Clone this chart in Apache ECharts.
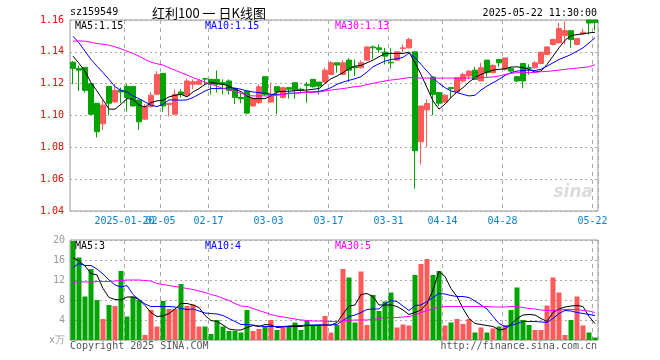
<!DOCTYPE html>
<html><head><meta charset="utf-8">
<script src="https://cdn.jsdelivr.net/npm/echarts@6/dist/echarts.min.js"></script>
<style>html,body{margin:0;padding:0;background:#fff}#c{width:660px;height:360px}</style>
</head><body><div id="c"></div>
<script>
const dates = ['01-07','01-08','01-09','01-10','01-13','01-14','01-15','01-16','01-17','01-20','01-21','01-22','01-23','01-24','01-27',
'02-05','02-06','02-07','02-10','02-11','02-12','02-13','02-14','02-17','02-18','02-19','02-20','02-21','02-24','02-25','02-26','02-27','02-28',
'03-03','03-04','03-05','03-06','03-07','03-10','03-11','03-12','03-13','03-14','03-17','03-18','03-19','03-20','03-21','03-24','03-25','03-26','03-27','03-28','03-31',
'04-01','04-02','04-03','04-07','04-08','04-09','04-10','04-11','04-14','04-15','04-16','04-17','04-18','04-21','04-22','04-23','04-24','04-25','04-28','04-29','04-30',
'05-06','05-07','05-08','05-09','05-12','05-13','05-14','05-15','05-16','05-19','05-20','05-21','05-22'];
const tickIdx = [9,15,23,33,43,53,62,72,87];
const tickText = ['2025-01-20','02-05','02-17','03-03','03-17','03-31','04-14','04-28','05-22'];

const open = [1.1335,1.1296,1.1302,1.12,1.1077,1.0948,1.1183,1.1085,1.1158,1.1183,1.1183,1.1098,1.0977,1.1056,1.1133,1.1265,1.1069,1.1008,1.1148,1.1127,1.1196,1.1196,1.1231,1.1227,1.1227,1.1206,1.1217,1.1169,1.1113,1.1154,1.106,1.1081,1.1244,1.1085,1.1181,1.1113,1.1175,1.1206,1.1165,1.1196,1.1227,1.121,1.121,1.1258,1.1331,1.1258,1.1348,1.1306,1.13,1.1348,1.1431,1.1425,1.1398,1.1335,1.1348,1.1421,1.1425,1.14,1.0835,1.1035,1.1242,1.1144,1.1085,1.1175,1.1148,1.1217,1.1248,1.1285,1.1217,1.1348,1.1269,1.1352,1.129,1.1294,1.1244,1.1327,1.13,1.13,1.1327,1.1383,1.1446,1.1456,1.1502,1.1533,1.1446,1.1513,1.16,1.16];
const close = [1.1296,1.1285,1.1158,1.1008,1.0898,1.1065,1.1077,1.1158,1.1148,1.1113,1.106,1.096,1.1056,1.1127,1.1258,1.106,1.1077,1.1133,1.1133,1.1217,1.1212,1.1217,1.1229,1.1196,1.1196,1.1196,1.1158,1.1113,1.1106,1.1015,1.1108,1.1181,1.1133,1.1133,1.1148,1.1175,1.1165,1.1158,1.1158,1.119,1.1181,1.1185,1.1285,1.1331,1.1317,1.1331,1.1285,1.13,1.1331,1.1431,1.1425,1.1415,1.1373,1.1331,1.14,1.1425,1.1477,1.0779,1.106,1.1075,1.1133,1.1077,1.1127,1.1169,1.1237,1.1258,1.1279,1.1227,1.13,1.1269,1.1315,1.1331,1.1362,1.1279,1.1217,1.1217,1.1296,1.1331,1.1398,1.1431,1.1477,1.1546,1.1533,1.1477,1.1483,1.1523,1.1581,1.1585];
const low = [1.1196,1.1154,1.1144,1.1002,1.0862,1.091,1.1002,1.1081,1.1077,1.1025,1.1056,1.091,1.0973,1.105,1.1129,1.1023,1.0994,1.1004,1.1113,1.1123,1.1165,1.119,1.119,1.1133,1.1144,1.1133,1.1133,1.1071,1.1077,1.1008,1.1056,1.1071,1.1123,1.1081,1.1008,1.1106,1.1106,1.1106,1.1138,1.1081,1.1175,1.1133,1.1206,1.1252,1.1269,1.1254,1.1212,1.1248,1.1296,1.1342,1.1356,1.1394,1.1321,1.1294,1.1342,1.1398,1.1421,1.054,1.0692,1.0804,1.1002,1.106,1.108,1.1108,1.1144,1.1206,1.1227,1.1223,1.1217,1.1244,1.1265,1.1306,1.1281,1.1273,1.1212,1.1171,1.1256,1.1296,1.1321,1.1379,1.144,1.1456,1.1446,1.1425,1.1442,1.1504,1.1508,1.1535];
const high = [1.1342,1.1315,1.1302,1.12,1.1077,1.1096,1.1183,1.1196,1.1175,1.12,1.1183,1.1098,1.1071,1.1148,1.1279,1.1265,1.1077,1.1165,1.1165,1.1231,1.1227,1.1225,1.1233,1.1227,1.1283,1.1227,1.1227,1.1169,1.1144,1.1154,1.1113,1.1196,1.1244,1.1206,1.1181,1.1175,1.1175,1.1206,1.1175,1.121,1.1227,1.121,1.13,1.1342,1.1331,1.1348,1.136,1.1352,1.1346,1.1435,1.144,1.1446,1.1425,1.1425,1.1404,1.1446,1.1488,1.1404,1.106,1.1102,1.1242,1.1144,1.1133,1.1179,1.1237,1.1269,1.1285,1.1306,1.1331,1.1348,1.1321,1.1352,1.1362,1.1306,1.1248,1.1327,1.1321,1.1342,1.14,1.1435,1.1483,1.1581,1.1592,1.1533,1.1488,1.1546,1.16,1.16];

const ma5 = [1.1373,1.1327,1.1279,1.1206,1.1154,1.1098,1.104,1.104,1.1071,1.1106,1.1102,1.1065,1.1054,1.1081,1.1092,1.1096,1.1117,1.1127,1.1133,1.1117,1.1148,1.1169,1.1196,1.1206,1.1202,1.1196,1.1185,1.1165,1.115,1.1123,1.1106,1.1106,1.1106,1.1123,1.1148,1.1152,1.1152,1.1156,1.1158,1.116,1.1165,1.1169,1.1202,1.1231,1.1248,1.1269,1.1294,1.131,1.1315,1.1331,1.1348,1.1369,1.139,1.139,1.139,1.139,1.1398,1.1331,1.1258,1.1175,1.1092,1.104,1.1071,1.1113,1.1148,1.1175,1.121,1.1238,1.1258,1.1273,1.1285,1.129,1.1294,1.1304,1.1306,1.13,1.129,1.1273,1.1279,1.1321,1.1373,1.1425,1.1473,1.1502,1.1508,1.1513,1.1519,1.1523];
const ma10 = [1.1498,1.1456,1.1404,1.1352,1.131,1.1269,1.1227,1.1181,1.1158,1.1148,1.1123,1.1106,1.1085,1.1065,1.1056,1.1071,1.1098,1.1098,1.1096,1.1098,1.1113,1.1133,1.1154,1.1169,1.1169,1.1169,1.1175,1.1172,1.1165,1.1154,1.1148,1.1144,1.114,1.1133,1.1133,1.1133,1.114,1.114,1.1144,1.1148,1.1148,1.1152,1.116,1.1175,1.1196,1.121,1.1221,1.1231,1.1244,1.1273,1.1306,1.1325,1.1342,1.1352,1.1356,1.1365,1.1392,1.1363,1.1321,1.1279,1.1238,1.1202,1.1175,1.1154,1.1144,1.1133,1.1123,1.1127,1.116,1.1185,1.1206,1.1227,1.1252,1.1269,1.1279,1.1283,1.1285,1.1283,1.129,1.131,1.1331,1.1352,1.1367,1.1383,1.1404,1.1425,1.1456,1.1488];
const ma30 = [1.1467,1.1469,1.1467,1.146,1.1452,1.1448,1.1442,1.1431,1.1419,1.1404,1.139,1.1373,1.1352,1.1335,1.1325,1.1317,1.13,1.1285,1.1269,1.1254,1.1238,1.1225,1.121,1.1196,1.1183,1.1171,1.116,1.115,1.114,1.1127,1.1123,1.1123,1.1123,1.1123,1.1127,1.1133,1.1138,1.114,1.1144,1.1144,1.1146,1.1148,1.1154,1.116,1.1165,1.1169,1.1175,1.1181,1.1185,1.1194,1.1202,1.121,1.1217,1.1223,1.1227,1.1233,1.1238,1.1238,1.1235,1.1235,1.1235,1.1235,1.1235,1.1235,1.1235,1.1235,1.1235,1.1238,1.1238,1.124,1.1242,1.1248,1.1258,1.1265,1.1269,1.1269,1.1269,1.1271,1.1275,1.1277,1.1281,1.1285,1.129,1.1294,1.1298,1.1302,1.1306,1.1319];

const volume = [19.8,16.5,8.7,14.2,8,4.2,7,6.8,13.8,4.7,8.7,8,1,6,2.7,7.8,6.2,6.2,11.2,6.8,7.1,2.7,2.7,1.2,4,2.7,1.8,1.8,1.5,6,1.8,2.2,2.7,4,2,2.5,2.7,3.5,2,3.9,3,3,4.8,1.5,3,14.2,12.5,3.5,13.7,3,9,5.8,7.7,9.5,2.5,3.1,2.9,13,15.2,16.2,13,13.8,2.9,3.5,4.2,3.2,4.2,1.5,2.5,1.5,2.3,2.7,3,6,10.5,4,3,2,2,6.9,12.5,9.5,1,4,8.7,2.9,1.5,0.5];
const vma5 = [16.5,15.8,14.8,13.3,13,10.3,8.5,8.1,8,8.6,8.6,8.1,6.9,5.5,4.7,4.8,5.3,6.2,7.3,7.3,7,6.5,4.9,3.9,3.7,3,2.2,2,2,2.5,2.9,2.7,3.1,3,2.5,2.6,2.7,2.7,2.7,2.9,2.9,3,3,3,3.5,5.2,6.8,7,9.1,9.3,8.7,7,7,7,6.7,6,5.1,5.5,6,7.3,10,13.7,12.7,10.3,8.7,6.3,4.3,3.3,3.1,2.9,2.7,2,2.2,3.1,4.3,5,5.1,5,4.3,3.7,5.5,6.2,6.6,6.8,6.9,6.7,4.7,3.3];
const vma10 = [14.5,15.3,14.9,14.9,14.2,13.2,12,11,10.6,10.9,9.1,8.1,7.2,6.7,6.7,6.7,6.7,6.6,6.3,6.1,6.2,5.8,5.4,5.3,5.2,4.9,4.3,3.7,3.1,3.1,3,2.8,2.7,2.7,2.7,2.7,2.8,2.9,2.9,3,3,3,3,3,3.1,3.9,4.7,5,5.5,6.1,6.2,6.2,7.3,7.9,7.7,6.8,5.9,6.9,7,7.7,8.5,9.3,9.2,8.9,8.7,8.7,8.5,7.8,7,6.2,4.7,3.3,2.7,2.9,3.3,3.7,3.7,3.7,3.6,3.5,4.3,5.3,5.9,5.8,5.5,5.3,5.1,4.9];
const vma30 = [11.4,11.7,11.6,11.6,11.7,11.7,11.7,11.8,11.9,12,12,12,11.9,11.8,11.3,11.1,10.9,10.7,10.5,10.3,10.1,9.8,9.5,9.1,8.8,8.3,7.9,7.3,6.8,6.7,6.3,5.9,5.5,5.1,4.8,4.6,4.4,4.2,4,3.9,3.8,3.8,3.8,3.7,3.7,3.8,3.9,4,4,4,4.1,4.3,4.5,4.5,4.5,4.6,4.7,5,5.5,5.9,6.2,6.5,6.7,6.7,6.7,6.7,6.7,6.7,6.7,6.7,6.6,6.6,6.6,6.7,6.7,6.5,6.3,6.2,6,5.9,5.9,6,6.1,6.1,6.1,5.9,5.8,5.5];

const UP = '#ff5a5a', DOWN = '#00a300';
const MONO = 'DejaVu Sans Mono';
const kdata = open.map((o,i)=>[o, close[i], low[i], high[i]]);
const vdata = volume.map((v,i)=>({value:v, itemStyle:{color: close[i] >= open[i] ? UP : DOWN}}));
const firstTick = tickIdx[0];
const showTick = (i)=> tickIdx.indexOf(i) >= 0;
const showLabel = (i)=> i !== firstTick && tickIdx.indexOf(i) >= 0;

const chart = echarts.init(document.getElementById('c'), null, {renderer:'canvas'});
const gridLine = {color:'#aaa', type:[2,3], width:1};
const vLine = {color:'#aaa', type:[4,4], width:1};
const lineS = (name, data, color, xi, yi) => ({name, type:'line', data, xAxisIndex:xi, yAxisIndex:yi, showSymbol:false, symbol:'none', z:5,
  lineStyle:{color, width:1}, itemStyle:{color}, emphasis:{disabled:true}});
const labelStyle = {color:'#0c80d0', fontFamily:MONO, fontSize:10, margin:5, padding:[0,5,0,0], hideOverlap:false};

chart.setOption({
  animation:false,
  backgroundColor:'#fff',
  grid:[
    {left:70, top:20, width:528, height:191, show:true, borderColor:'#999', borderWidth:1},
    {left:70, top:240, width:528, height:100, show:true, borderColor:'#999', borderWidth:1}
  ],
  xAxis:[
    {type:'category', gridIndex:0, data:dates, boundaryGap:true,
     axisLine:{show:false}, axisTick:{show:false},
     axisLabel:Object.assign({interval:showLabel, formatter:(v,i)=>tickText[tickIdx.indexOf(i)] || ''}, labelStyle),
     splitLine:{show:true, interval:showTick, lineStyle:vLine}},
    {type:'category', gridIndex:1, data:dates, boundaryGap:true,
     axisLine:{show:false}, axisTick:{show:false}, axisLabel:{show:false},
     splitLine:{show:true, interval:showTick, lineStyle:vLine}},
    {type:'category', gridIndex:0, data:dates, boundaryGap:true, position:'bottom', z:-1,
     axisLine:{show:false}, axisTick:{show:false}, splitLine:{show:false},
     axisLabel:Object.assign({interval:(i)=>i===firstTick, formatter:(v,i)=> i===firstTick ? tickText[0] : ''}, labelStyle)}
  ],
  yAxis:[
    {type:'value', gridIndex:0, min:1.04, max:1.16, interval:0.02,
     axisLine:{show:false}, axisTick:{show:false},
     axisLabel:{formatter:v=>v.toFixed(2), color:'#ff0000', fontFamily:MONO, fontSize:10, margin:6},
     splitLine:{show:true, lineStyle:gridLine}},
    {type:'value', gridIndex:1, min:0, max:20, interval:4,
     axisLine:{show:false}, axisTick:{show:false},
     axisLabel:{formatter:v=> v===0 ? 'x万' : String(v), color:'#999', fontFamily:MONO, fontSize:10, margin:5},
     splitLine:{show:true, lineStyle:gridLine}}
  ],
  series:[
    {type:'candlestick', xAxisIndex:0, yAxisIndex:0, data:kdata, barWidth:5,
     itemStyle:{color:UP, color0:DOWN, borderColor:UP, borderColor0:DOWN, borderWidth:1}},
    lineS('MA5', ma5, '#000', 0, 0),
    lineS('MA10', ma10, '#0000ff', 0, 0),
    lineS('MA30', ma30, '#ff00ff', 0, 0),
    {type:'bar', xAxisIndex:1, yAxisIndex:1, data:vdata, barWidth:5},
    lineS('VMA5', vma5, '#000', 1, 1),
    lineS('VMA10', vma10, '#0000ff', 1, 1),
    lineS('VMA30', vma30, '#ff00ff', 1, 1)
  ],
  graphic:[
    {type:'text', left:70, top:7, style:{text:'sz159549', font:'10px '+MONO, fill:'#000'}},
    {type:'text', x:209, y:13, style:{text:'红利100 一 日K线图', font:'13px "Noto Sans CJK SC"', fill:'#000', textAlign:'center', textVerticalAlign:'middle'}},
    {type:'text', x:597, y:13, style:{text:'2025-05-22 11:30:00', font:'10px '+MONO, fill:'#000', textAlign:'right', textVerticalAlign:'middle'}},
    {type:'text', x:75, y:26, z:10, style:{text:'MA5:1.15', font:'10px '+MONO, fill:'#000', textVerticalAlign:'middle'}},
    {type:'text', x:205, y:26, z:10, style:{text:'MA10:1.15', font:'10px '+MONO, fill:'#0000ff', textVerticalAlign:'middle'}},
    {type:'text', x:335, y:26, z:10, style:{text:'MA30:1.13', font:'10px '+MONO, fill:'#ff00ff', textVerticalAlign:'middle'}},
    {type:'text', x:75, y:246, z:10, style:{text:'MA5:3', font:'10px '+MONO, fill:'#000', textVerticalAlign:'middle'}},
    {type:'text', x:205, y:246, z:10, style:{text:'MA10:4', font:'10px '+MONO, fill:'#0000ff', textVerticalAlign:'middle'}},
    {type:'text', x:335, y:246, z:10, style:{text:'MA30:5', font:'10px '+MONO, fill:'#ff00ff', textVerticalAlign:'middle'}},
    {type:'text', x:70, y:346, z:10, style:{text:'Copyright 2025 SINA.COM', font:'10px '+MONO, fill:'#555', textVerticalAlign:'middle'}},
    {type:'text', x:597, y:346, z:10, style:{text:'http://finance.sina.com.cn', font:'10px '+MONO, fill:'#555', textAlign:'right', textVerticalAlign:'middle'}},
    {type:'text', x:593, y:193, z:1, style:{text:'sina', font:'italic bold 17px "DejaVu Sans"', fill:'#dcdcdc', textAlign:'right', textVerticalAlign:'middle'}}
  ]
});
</script></body></html>
